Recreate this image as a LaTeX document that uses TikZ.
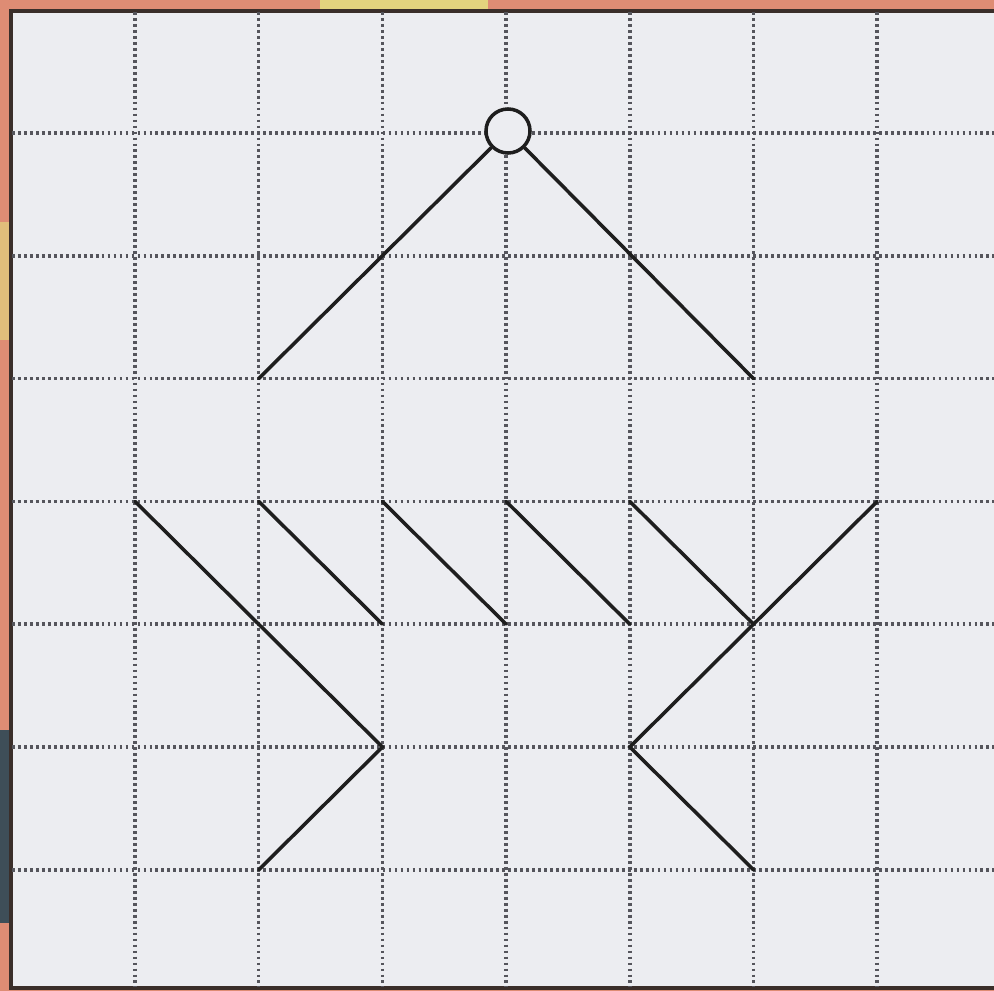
\documentclass[tikz,border=0pt]{standalone}
\usetikzlibrary{positioning}
\definecolor{csalmon}{HTML}{DE8C74}
\definecolor{cyellow}{HTML}{E3D37E}
\definecolor{cteal}{HTML}{3E4E58}
\definecolor{cpaper}{HTML}{ECEDF1}
\definecolor{cframe}{HTML}{3A2E2A}
\definecolor{cdots}{HTML}{55555C}
\definecolor{cink}{HTML}{1E1E1E}
\tikzset{
  gridline/.style={draw=cdots, line width=1pt, dash pattern=on 0.8pt off 0.9pt},
  seg/.style={draw=cink, line width=1pt, line cap=round},
  ring/.style={circle, draw=cink, fill=cpaper, line width=1pt, minimum size=0.44cm, inner sep=0pt},
}

\begin{document}
\begin{tikzpicture}[x=0.01cm, y=-0.01cm]
  \useasboundingbox (0,0) rectangle (994,991);
  % paper and frame
  \fill[csalmon] (0,0) rectangle (994,991);
  \fill[cyellow] (320,0) rectangle (488,11);
  \fill[cyellow!70!csalmon] (0,222) rectangle (9,340);
  \fill[cteal] (0,730) rectangle (9,923);
  \fill[cpaper] (11,11) rectangle (1000,988);
  \draw[cframe, line width=1pt] (1000,11) -- (11,11) -- (11,988) -- (1000,988);
  % dotted grid
  \foreach \i in {0,...,6} {
    \draw[gridline] ({135+123.7*\i},12) -- ({135+123.7*\i},987);
    \draw[gridline] (12,{133+122.8*\i}) -- (994,{133+122.8*\i});
  }
  \foreach \i in {0,...,6}
    \foreach \j in {0,...,6}
      \coordinate (g-\i-\j) at ({135+123.7*\i},{133+122.8*\j});
  % hook
  \node[ring] (top) at (508,131) {};
  \draw[seg] (top) -- (g-1-2);
  \draw[seg] (top) -- (g-5-2);
  % middle strokes
  \draw[seg] (g-0-3) -- (g-2-5) -- (g-1-6);
  \foreach \i/\k in {1/2, 2/3, 3/4, 4/5}
    \draw[seg] (g-\i-3) -- (g-\k-4);
  \draw[seg] (g-6-3) -- (g-4-5) -- (g-5-6);
\end{tikzpicture}
\end{document}
